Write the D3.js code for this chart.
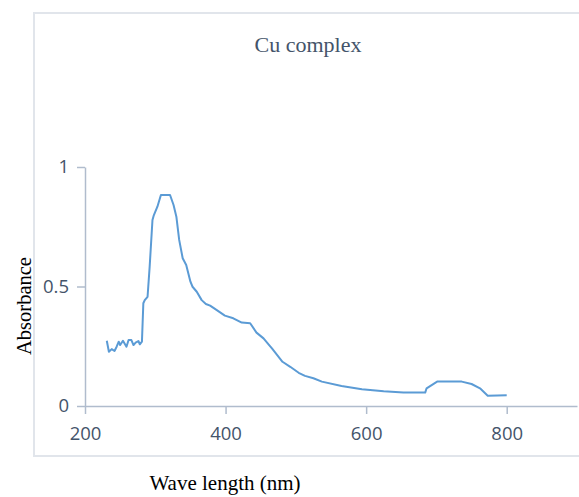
<!DOCTYPE html>
<html>
<head>
  <script src="https://d3js.org/d3.v7.min.js"></script>
  <style>
    body { margin: 0; background: #fff; }
    .tick text { font-family: "Open Sans", sans-serif; font-size: 18.5px; fill: #44546a; }
    .axis path, .axis line { stroke: #b0bccd; stroke-width: 1.5px; }
  </style>
</head>
<body>
  <svg id="chart" width="579" height="497"></svg>
  <script>
    // wavelength (nm) and absorbance
    const wavelength = [231, 234, 238, 242, 245, 248, 250, 254, 259, 262, 266, 269, 272, 276, 278, 281,
      283, 285, 289, 292, 296, 298, 303, 308, 321, 326, 330, 334, 339, 344, 350, 353, 359, 366, 372, 378,
      387, 399, 411, 423, 435, 444, 454, 462, 466, 481, 492, 504, 513, 525, 537, 565, 594, 625, 653, 684,
      686, 701, 736, 750, 762, 773, 800];
    const absorbance = [0.273, 0.227, 0.238, 0.23, 0.248, 0.269, 0.255, 0.273, 0.248, 0.276, 0.276, 0.255, 0.265, 0.272, 0.258, 0.269,
      0.43, 0.443, 0.457, 0.583, 0.778, 0.799, 0.834, 0.883, 0.883, 0.841, 0.792, 0.695, 0.618, 0.59, 0.52, 0.499, 0.478, 0.443, 0.427, 0.42,
      0.402, 0.378, 0.367, 0.349, 0.346, 0.307, 0.283, 0.255, 0.241, 0.185, 0.164, 0.139, 0.126, 0.116, 0.102, 0.084, 0.07, 0.062, 0.057, 0.056,
      0.074, 0.102, 0.102, 0.092, 0.074, 0.043, 0.045];
    const xTicks = [200, 400, 600, 800];
    const yTicks = [0, 0.5, 1];

    const svg = d3.select("#chart");

    // outer frame
    svg.append("rect")
      .attr("x", 34).attr("y", 13)
      .attr("width", 560).attr("height", 443)
      .attr("fill", "none")
      .attr("stroke", "#e1e5eb")
      .attr("stroke-width", 2);

    const x = d3.scaleLinear().domain([200, 900]).range([85, 577]);
    const y = d3.scaleLinear().domain([0, 1]).range([406, 167]);

    svg.append("g")
      .attr("class", "axis")
      .attr("transform", "translate(0,406)")
      .call(d3.axisBottom(x).tickValues(xTicks).tickSize(8).tickSizeOuter(0).tickPadding(9))
      .call(g => g.selectAll(".tick text").attr("dy", "0.9em"));

    svg.append("g")
      .attr("class", "axis")
      .attr("transform", "translate(85,0)")
      .call(d3.axisLeft(y).tickValues(yTicks).tickFormat(d3.format("")).tickSize(8).tickSizeOuter(0).tickPadding(8));

    const line = d3.line()
      .x((d, i) => x(wavelength[i]))
      .y(d => y(d));

    svg.append("path")
      .datum(absorbance)
      .attr("fill", "none")
      .attr("stroke", "#5b9bd5")
      .attr("stroke-width", 2)
      .attr("stroke-linejoin", "round")
      .attr("d", line);

    // title and axis titles
    svg.append("text")
      .attr("x", 308).attr("y", 52)
      .attr("text-anchor", "middle")
      .style("font-family", "'Liberation Serif', serif")
      .style("font-size", "22px")
      .style("fill", "#44546a")
      .text("Cu complex");

    svg.append("text")
      .attr("transform", "translate(31,306) rotate(-90)")
      .attr("text-anchor", "middle")
      .style("font-family", "'Liberation Serif', serif")
      .style("font-size", "20.5px")
      .style("fill", "#000")
      .text("Absorbance");

    svg.append("text")
      .attr("x", 225).attr("y", 490)
      .attr("text-anchor", "middle")
      .style("font-family", "'Liberation Serif', serif")
      .style("font-size", "21px")
      .style("fill", "#000")
      .text("Wave length (nm)");
  </script>
</body>
</html>
